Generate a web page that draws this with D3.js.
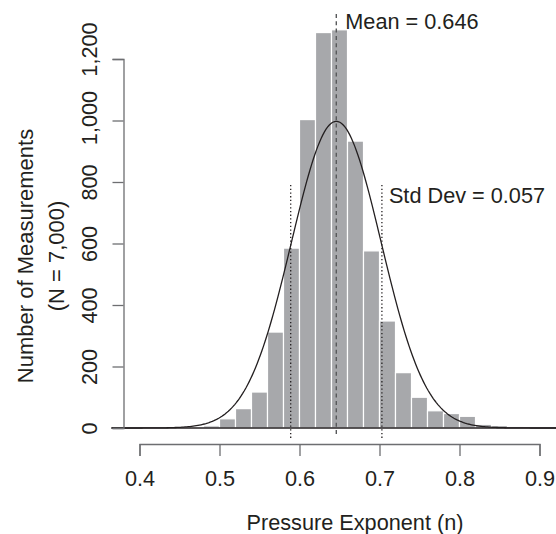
<!DOCTYPE html>
<html>
<head>
<meta charset="utf-8">
<script src="https://cdn.jsdelivr.net/npm/d3@7"></script>
<style>
  html, body { margin: 0; padding: 0; background: #fff; }
  text { font-family: "Liberation Sans", Arial, sans-serif; fill: #231f20; }
</style>
</head>
<body>
<div id="chart"></div>
<script>
// histogram bins (lower edge) and counts
var binStarts = [0.48, 0.50, 0.52, 0.54, 0.56, 0.58, 0.60, 0.62, 0.64, 0.66,
                 0.68, 0.70, 0.72, 0.74, 0.76, 0.78, 0.80, 0.82, 0.84, 0.86];
var binCounts = [7, 30, 63, 117, 312, 585, 1003, 1286, 1295, 933,
                 576, 348, 180, 100, 56, 47, 38, 12, 8, 4];
var binWidth = 0.02;
var xTicks = [0.4, 0.5, 0.6, 0.7, 0.8, 0.9];
var yTicks = [0, 200, 400, 600, 800, 1000, 1200];
var nTotal = 7000;
var mean = 0.646;
var sd = 0.057;
var fitSd = 0.056; // fitted curve as drawn

var width = 556, height = 534;
var fontSize = "21.7px";

var svg = d3.select("#chart").append("svg")
    .attr("width", width)
    .attr("height", height);

var x = d3.scaleLinear().domain([0.4, 0.9]).range([139.5, 539.5]);
var y = d3.scaleLinear().domain([0, 1200]).range([428, 59]);

// bars
svg.append("g").selectAll("rect")
    .data(binStarts)
    .enter().append("rect")
        .attr("x", function(d) { return x(d); })
        .attr("width", function(d) { return x(d + binWidth) - x(d); })
        .attr("y", function(d, i) { return y(binCounts[i]); })
        .attr("height", function(d, i) { return y(0) - y(binCounts[i]); })
        .style("fill", "#a7a8ab")
        .style("stroke", "#fff")
        .style("stroke-width", 1.2);

// baseline
svg.append("line")
    .attr("x1", x(0.365)).attr("x2", width)
    .attr("y1", y(0)).attr("y2", y(0))
    .style("stroke", "#231f20")
    .style("stroke-width", 1.3);

// normal curve
var curveX = d3.range(0.365, 0.93, 0.002);
var dnorm = function(v) {
    return Math.exp(-0.5 * Math.pow((v - mean) / fitSd, 2)) / (fitSd * Math.sqrt(2 * Math.PI));
};
svg.append("path")
    .datum(curveX)
    .attr("d", d3.line()
        .x(function(d) { return x(d); })
        .y(function(d) { return y(nTotal * binWidth * dnorm(d)); }))
    .style("fill", "none")
    .style("stroke", "#231f20")
    .style("stroke-width", 1.3);

// mean and std dev lines
svg.append("line")
    .attr("x1", x(mean)).attr("x2", x(mean))
    .attr("y1", 14).attr("y2", 437)
    .style("stroke", "#58595b")
    .style("stroke-width", 1.4)
    .style("stroke-dasharray", "4,3.3");

[mean - sd, mean + sd].forEach(function(v) {
    svg.append("line")
        .attr("x1", x(v)).attr("x2", x(v))
        .attr("y1", 185).attr("y2", 438)
        .style("stroke", "#231f20")
        .style("stroke-width", 1.3)
        .style("stroke-dasharray", "1.3,2.4");
});

svg.append("text")
    .attr("x", x(mean) + 9).attr("y", 29)
    .style("font-size", fontSize)
    .text("Mean = " + mean.toFixed(3));

svg.append("text")
    .attr("x", x(mean + sd) + 7).attr("y", 203)
    .style("font-size", fontSize)
    .text("Std Dev = " + sd.toFixed(3));

// y axis
var yAxis = svg.append("g")
    .attr("transform", "translate(123.5,0)")
    .call(d3.axisLeft(y).tickValues(yTicks).tickSizeOuter(0).tickSize(11).tickFormat(d3.format(",")));
yAxis.select(".domain").style("stroke", "#6d6e71").style("stroke-width", 1.3);
yAxis.selectAll(".tick line").style("stroke", "#6d6e71").style("stroke-width", 1.3);
yAxis.selectAll(".tick text")
    .attr("transform", "rotate(-90)")
    .attr("x", function(d) { return d === 1200 ? 10 : (d === 1000 ? 3 : 0); }) // top labels sit a little higher
    .attr("y", -27)
    .attr("dy", 0)
    .style("text-anchor", "middle")
    .style("font-family", "Liberation Sans, Arial, sans-serif")
    .style("font-size", fontSize)
    .style("fill", "#231f20");

// x axis
var xAxis = svg.append("g")
    .attr("transform", "translate(0,444)")
    .call(d3.axisBottom(x).tickValues(xTicks).tickSizeOuter(0).tickSize(12).tickFormat(d3.format(".1f")));
xAxis.select(".domain").style("stroke", "#6d6e71").style("stroke-width", 1.3);
xAxis.selectAll(".tick line").style("stroke", "#6d6e71").style("stroke-width", 1.3);
xAxis.selectAll(".tick text")
    .attr("y", 42).attr("dy", 0)
    .style("font-family", "Liberation Sans, Arial, sans-serif")
    .style("font-size", fontSize)
    .style("fill", "#231f20");

// axis titles
svg.append("text")
    .attr("x", 355).attr("y", 530)
    .style("text-anchor", "middle")
    .style("font-size", fontSize)
    .text("Pressure Exponent (n)");

svg.append("text")
    .attr("transform", "translate(33,256) rotate(-90)")
    .style("text-anchor", "middle")
    .style("font-size", "22px")
    .text("Number of Measurements");

svg.append("text")
    .attr("transform", "translate(64,256) rotate(-90)")
    .style("text-anchor", "middle")
    .style("font-size", "22px")
    .text("(N = 7,000)");
</script>
</body>
</html>
